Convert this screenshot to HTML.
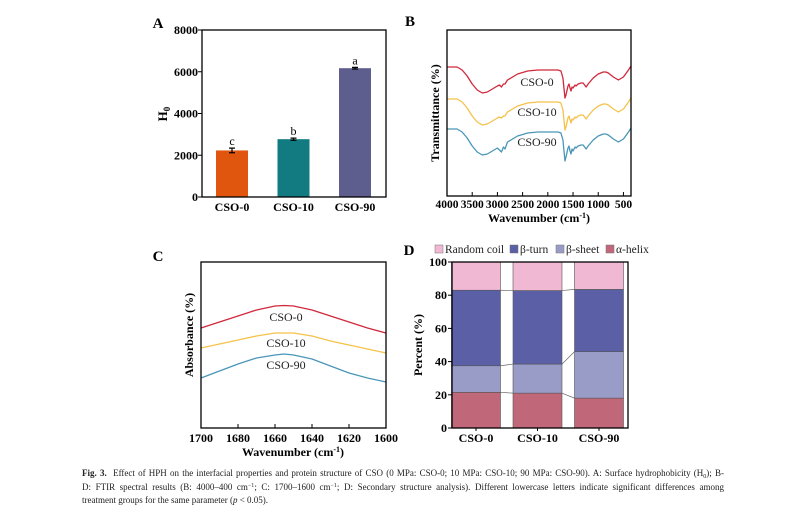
<!DOCTYPE html>
<html><head><meta charset="utf-8">
<style>
html,body{margin:0;padding:0;background:#fff;}
body{width:804px;height:517px;position:relative;overflow:hidden;font-family:"Liberation Serif",serif;}
#cap{position:absolute;left:82px;top:467px;width:642px;font-size:9px;line-height:13.5px;color:#222;}
#cap .j{text-align:justify;text-align-last:justify;white-space:nowrap;}
#cap sub,#cap sup{font-size:6px;line-height:0;position:relative;vertical-align:baseline;}
#cap sub{top:2px;} #cap sup{top:-3px;}
</style></head>
<body>
<svg id="fig" width="804" height="467" style="position:absolute;left:0;top:0" font-family="Liberation Serif, serif"></svg>
<div id="cap"><div class="j"><b>Fig. 3.</b>&nbsp; Effect of HPH on the interfacial properties and protein structure of CSO (0 MPa: CSO-0; 10 MPa: CSO-10; 90 MPa: CSO-90). A: Surface hydrophobicity (H<sub>0</sub>); B-</div><div class="j">D: FTIR spectral results (B: 4000–400 cm<sup>−1</sup>; C: 1700–1600 cm<sup>−1</sup>; D: Secondary structure analysis). Different lowercase letters indicate significant differences among</div><div>treatment groups for the same parameter (<i>p</i> &lt; 0.05).</div></div>
<script>
// Panel A data
const aCats = ["CSO-0","CSO-10","CSO-90"];
const aVals = [2230, 2770, 6170];
const aErr = [110, 50, 40];
const aLetters = ["c","b","a"];
const aTicks = [0,2000,4000,6000,8000];
// Panel B data
const bWaves = [4000,3800,3700,3600,3500,3400,3300,3200,3100,3000,2960,2920,2880,2850,2800,2600,2400,2200,2000,1800,1740,1700,1660,1640,1600,1580,1560,1540,1520,1500,1460,1440,1400,1340,1300,1240,1200,1100,1000,900,850,800,700,600,500,400,350];
const bRed = [129,129,126,120,112,106,103,104,107,110,111,109,112,112,116,122,125,126,126,126,125,118,98,101,110,112,108,105,109,108,111,110,112,113,113,109,112,118,122,124,124,123,119,116,119,126,130];
const bYellow = [97,97,94,88,80,74,71,72,75,78,79,78,80,80,84,90,93,94,94,94,93,86,66,69,78,80,76,73,77,76,79,78,80,81,81,77,80,86,90,92,92,91,87,84,87,94,98];
const bBlue = [67,67,64,58,50,44,41,42,45,48,46,44,49,47,54,60,63,64,64,64,63,56,35,39,48,50,45,42,47,45,49,48,50,51,51,47,50,56,60,62,62,61,57,54,57,64,68];
const bTicks = [4000,3500,3000,2500,2000,1500,1000,500];
// Panel C data
const cWaves = [1700,1690,1680,1670,1660,1655,1650,1640,1630,1620,1610,1600];
const cRed = [100,106,112,118,122,122.5,122,118,112,106,100,95];
const cYellow = [80,84,88,92,95,95,95,92,87,83,79,75];
const cBlue = [50,57,64,70,73,74,73,69,62,55,50,46];
const cTicks = [1700,1680,1660,1640,1620,1600];
// Panel D data
const dCats = ["CSO-0","CSO-10","CSO-90"];
const dHelix = [21.5, 21, 18];
const dSheet = [16, 17.5, 28];
const dTurn = [45.5, 44.3, 37.5];
const dCoil = [17, 17.2, 16.5];
const dTicks = [0,20,40,60,80,100];

const svg = document.getElementById('fig');
const NS = 'http://www.w3.org/2000/svg';
function mk(tag, attrs, parent, text){
  const e = document.createElementNS(NS, tag);
  for (const k in attrs) e.setAttribute(k, attrs[k]);
  if (text !== undefined) e.textContent = text;
  (parent||svg).appendChild(e);
  return e;
}
function lin(d0,d1,r0,r1){return v=>r0+(v-d0)/(d1-d0)*(r1-r0);}

// ---------- Panel A ----------
const gA = mk('g',{});  
const aL=202,aR=386,aT=30,aB=197;
const ay = lin(0,8000,aB,aT);
const ax = i => 232 + i*61.5;
let t = mk('text',{x:158,y:28,'font-size':15,'font-weight':'bold','text-anchor':'middle'},gA,'A');
 
aVals.forEach((v,i)=>{
  const cols=['#e0560f','#127b82','#5d5d8e'];
  const r = mk('rect',{x:ax(i)-16,y:ay(v),width:32,height:aB-ay(v),fill:cols[i]},gA);
   
  const eb = mk('path',{d:`M${ax(i)-3},${ay(v+aErr[i])}H${ax(i)+3}M${ax(i)},${ay(v+aErr[i])}V${ay(v-aErr[i])}M${ax(i)-3},${ay(v-aErr[i])}H${ax(i)+3}`,stroke:'#000','stroke-width':1.2,fill:'none'},gA);
   
  const lt = mk('text',{x:ax(i),y:ay(v+aErr[i])-3,'font-size':12,'text-anchor':'middle'},gA,aLetters[i]);
   
  const xl = mk('text',{x:ax(i),y:211,'font-size':12,'font-weight':'bold','text-anchor':'middle'},gA,aCats[i]);
   
});
aTicks.forEach(v=>{
  mk('line',{x1:aL,x2:aL-4,y1:ay(v),y2:ay(v),stroke:'#000'},gA);
  const tl = mk('text',{x:aL-4,y:ay(v)+4,'font-size':12,'font-weight':'bold','text-anchor':'end'},gA,String(v));
   
});
let box = mk('rect',{x:aL,y:aT,width:aR-aL,height:aB-aT,fill:'none',stroke:'#000','stroke-width':1.3},gA);
 
t = mk('text',{transform:'translate(167,114) rotate(-90)','font-size':13,'font-weight':'bold','text-anchor':'middle'},gA);
t.innerHTML='H<tspan font-size="9" dy="3">0</tspan>';
 

// ---------- Panel B ----------
const gB = mk('g',{});  
const bL=447,bR=631,bT=30,bB=196;
const bx = lin(4000,350,bL,bR);
const by = lin(0,166,bB,bT);
t = mk('text',{x:410,y:26,'font-size':15,'font-weight':'bold','text-anchor':'middle'},gB,'B');
 
[[bRed,'#d0283c','CSO-0',82],[bYellow,'#f5c24a','CSO-10',112],[bBlue,'#4a96b8','CSO-90',142]].forEach(s=>{
  const p = mk('polyline',{points:bWaves.map((w,i)=>bx(w)+','+by(s[0][i])).join(' '),fill:'none',stroke:s[1],'stroke-width':1.3,'stroke-linejoin':'round'},gB);
   
  const l = mk('text',{x:537,y:s[3]+4,'font-size':12,'text-anchor':'middle',fill:'#222'},gB,s[2]);
   
});
bTicks.forEach(v=>{
  mk('line',{x1:bx(v),x2:bx(v),y1:bB,y2:bB-4,stroke:'#000'},gB);
  const tl = mk('text',{x:bx(v),y:208,'font-size':11.5,'font-weight':'bold','text-anchor':'middle'},gB,String(v));
   
});
box = mk('rect',{x:bL,y:bT,width:bR-bL,height:bB-bT,fill:'none',stroke:'#000','stroke-width':1.3},gB);
 
t = mk('text',{x:539,y:222,'font-size':12,'font-weight':'bold','text-anchor':'middle'},gB);
t.innerHTML='Wavenumber (cm<tspan font-size="8" dy="-4">-1</tspan><tspan dy="4">)</tspan>';
 
t = mk('text',{transform:'translate(439,113) rotate(-90)','font-size':12,'font-weight':'bold','text-anchor':'middle'},gB,'Transmittance (%)');
 

// ---------- Panel C ----------
const gC = mk('g',{});  
const cL=201,cR=386,cT=262,cB=428;
const cx = lin(1700,1600,cL,cR);
const cy = lin(0,166,cB,cT);
t = mk('text',{x:158,y:261,'font-size':15,'font-weight':'bold','text-anchor':'middle'},gC,'C');
 
[[cRed,'#d0283c','CSO-0',317],[cYellow,'#f5c24a','CSO-10',343],[cBlue,'#4a96b8','CSO-90',365]].forEach(s=>{
  const p = mk('polyline',{points:cWaves.map((w,i)=>cx(w)+','+cy(s[0][i])).join(' '),fill:'none',stroke:s[1],'stroke-width':1.3,'stroke-linejoin':'round'},gC);
   
  const l = mk('text',{x:286,y:s[3]+4,'font-size':12,'text-anchor':'middle',fill:'#222'},gC,s[2]);
   
});
cTicks.forEach(v=>{
  mk('line',{x1:cx(v),x2:cx(v),y1:cB,y2:cB-4,stroke:'#000'},gC);
  const tl = mk('text',{x:cx(v),y:442,'font-size':12,'font-weight':'bold','text-anchor':'middle'},gC,String(v));
   
});
box = mk('rect',{x:cL,y:cT,width:cR-cL,height:cB-cT,fill:'none',stroke:'#000','stroke-width':1.3},gC);
 
t = mk('text',{x:293,y:456,'font-size':12,'font-weight':'bold','text-anchor':'middle'},gC);
t.innerHTML='Wavenumber (cm<tspan font-size="8" dy="-4">-1</tspan><tspan dy="4">)</tspan>';
 
t = mk('text',{transform:'translate(193,335) rotate(-90)','font-size':12,'font-weight':'bold','text-anchor':'middle'},gC,'Absorbance (%)');
 

// ---------- Panel D ----------
const gD = mk('g',{});  
const dL=452,dR=628,dT=262,dB=428;
const dy = lin(0,100,dB,dT);
const dxc = i => 476 + i*61.5;
const bw = 49;
t = mk('text',{x:409,y:255,'font-size':15,'font-weight':'bold','text-anchor':'middle'},gD,'D');
 
const layers = [[dHelix,'#c0687a','alpha-helix'],[dSheet,'#9a9cc8','beta-sheet'],[dTurn,'#5a5fa6','beta-turn'],[dCoil,'#f0b8d3','random-coil']];
const cum = dCats.map(()=>0);
const tops = [];
layers.forEach(L=>{
  const row=[];
  dCats.forEach((c,i)=>{
    const y0 = cum[i], y1 = cum[i]+L[0][i];
    const r = mk('rect',{x:dxc(i)-bw/2,y:dy(y1),width:bw,height:dy(y0)-dy(y1),fill:L[1],stroke:'#555','stroke-width':0.6},gD);
     
    cum[i]=y1; row.push(y1);
  });
  tops.push(row);
});
tops.slice(0,3).forEach(row=>{
  for(let i=0;i<row.length-1;i++){
    const cl = mk('line',{x1:dxc(i)+bw/2,y1:dy(row[i]),x2:dxc(i+1)-bw/2,y2:dy(row[i+1]),stroke:'#666','stroke-width':0.7},gD);
     
  }
});
dTicks.forEach(v=>{
  mk('line',{x1:dL,x2:dL-4,y1:dy(v),y2:dy(v),stroke:'#000'},gD);
  const tl = mk('text',{x:dL-5,y:dy(v)+4,'font-size':12,'font-weight':'bold','text-anchor':'end'},gD,String(v));
   
});
dCats.forEach((c,i)=>{
  mk('line',{x1:dxc(i),x2:dxc(i),y1:dB,y2:dB+3,stroke:'#000'},gD);
  const xl = mk('text',{x:dxc(i),y:442,'font-size':12,'font-weight':'bold','text-anchor':'middle'},gD,c);
   
});
box = mk('rect',{x:dL,y:dT,width:dR-dL,height:dB-dT,fill:'none',stroke:'#000','stroke-width':1.3},gD);
 
t = mk('text',{transform:'translate(422,345) rotate(-90)','font-size':12,'font-weight':'bold','text-anchor':'middle'},gD,'Percent (%)');
 
const legItems = [['Random coil','#f0b8d3',435],['β-turn','#5a5fa6',510],['β-sheet','#9a9cc8',556],['α-helix','#c0687a',606]];
legItems.forEach(it=>{
  const g = mk('g',{},gD);
   
  mk('rect',{x:it[2],y:245,width:8,height:8,fill:it[1],stroke:'#777','stroke-width':0.5},g);
  mk('text',{x:it[2]+10,y:253,'font-size':11.5,fill:'#222'},g,it[0]);
});
</script>
</body></html>
